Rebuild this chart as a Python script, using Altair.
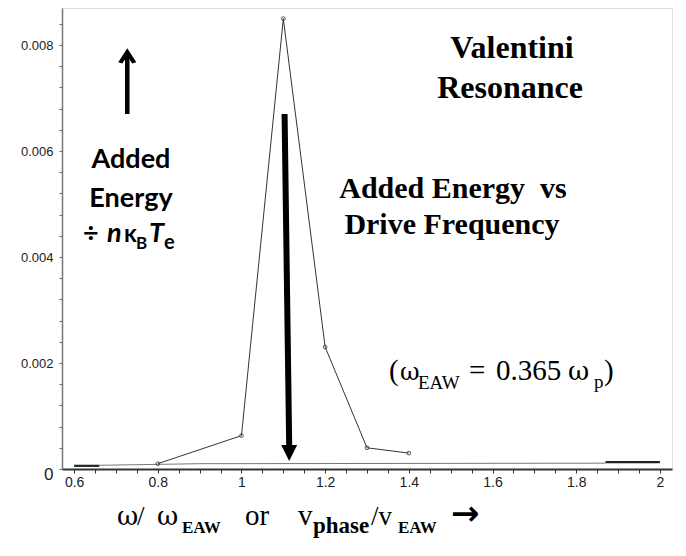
import altair as alt
import pandas as pd

# ---- data ----
drive_freq = [0.8, 1.0, 1.1, 1.2, 1.3, 1.4]
added_energy = [0.0001, 0.00063, 0.0085, 0.0023, 0.0004, 0.0003]

base_x = [0.66, 0.9, 1.87]
base_y = [0.00007, 0.0001, 0.00011]

seg_id = ["left", "left", "right", "right"]
seg_x = [0.6, 0.66, 1.87, 2.0]
seg_y = [0.00006, 0.00006, 0.00013, 0.00013]

x_tick_values = [round(0.6 + 0.05 * i, 2) for i in range(29)]
y_tick_values = [round(0.0004 * i, 4) for i in range(22)]

# arrows (data coordinates)
arrow_x = [1.103, 0.727]
arrow_x2 = [1.114, 0.727]
arrow_y = [0.0067, 0.0067]
arrow_y2 = [0.00045, 0.0078]
head_x = [1.114, 0.727]
head_y = [0.0003, 0.00777]

XMIN, XMAX = 0.571, 2.029
YMIN, YMAX = 0.0, 0.0087
W, H = 610, 461
LEFT = 54

x_scale = alt.Scale(domain=[XMIN, XMAX], nice=False, zero=False)
y_scale = alt.Scale(domain=[YMIN, YMAX], nice=False)

x_axis = alt.Axis(
    values=x_tick_values,
    labelExpr="abs(datum.value/0.2 - round(datum.value/0.2)) < 0.000001 ? format(datum.value, '.1~f') : ''",
    title=None, grid=False, tickSize=4, tickColor="#333", domainColor="#333",
    domainWidth=2, labelFont="Liberation Sans", labelFontSize=14, labelColor="#222",
    labelPadding=2, labelFlush=False, labelOverlap=False,
)
y_axis = alt.Axis(
    values=y_tick_values,
    labelExpr="abs(datum.value/0.002 - round(datum.value/0.002)) < 0.000001 ? (datum.value == 0 ? '0' : format(datum.value, '.3f')) : ''",
    title=None, grid=False, tickSize=3, tickColor="#666", domainColor="#777",
    domainWidth=1.5, labelFont="Liberation Sans",
    labelFontSize={"condition": {"test": "datum.value == 0", "value": 17}, "value": 13},
    labelOffset={"condition": {"test": "datum.value == 0", "value": 5}, "value": 0},
    labelColor="#222",
    labelPadding=6, labelFlush=False, labelOverlap=False,
)

X = alt.X("x:Q", scale=x_scale, axis=x_axis)
Y = alt.Y("y:Q", scale=y_scale, axis=y_axis)

main_df = pd.DataFrame({"x": drive_freq, "y": added_energy})
base_df = pd.DataFrame({"x": base_x, "y": base_y})
seg_df = pd.DataFrame({"x": seg_x, "y": seg_y, "seg": seg_id})
arrow_df = pd.DataFrame({"x": arrow_x, "x2": arrow_x2, "y": arrow_y, "y2": arrow_y2})
head_df = pd.DataFrame({"x": head_x, "y": head_y})

main_line = alt.Chart(main_df).mark_line(color="#333", strokeWidth=1).encode(x=X, y=Y)
main_pts = alt.Chart(main_df).mark_point(shape="circle", filled=False, size=14,
                                        color="#333", strokeWidth=0.8, opacity=1).encode(x=X, y=Y)
base_line = alt.Chart(base_df).mark_line(color="#777", strokeWidth=1).encode(x=X, y=Y)
seg_line = alt.Chart(seg_df).mark_line(color="#222", strokeWidth=2.2).encode(
    x=X, y=Y, detail="seg:N")

down_shaft = alt.Chart(arrow_df.iloc[[0]]).mark_rule(color="black", strokeWidth=6).encode(
    x=X, y=Y, x2="x2:Q", y2="y2:Q")
up_shaft = alt.Chart(arrow_df.iloc[[1]]).mark_rule(color="black", strokeWidth=4.5).encode(
    x=X, y=Y, x2="x2:Q", y2="y2:Q")
down_head = alt.Chart(head_df.iloc[[0]]).mark_point(
    shape="M -1 -1 L 1 -1 L 0 1 Z", filled=True, size=256, color="black", opacity=1,
    strokeWidth=0).encode(x=X, y=Y)
up_head = alt.Chart(head_df.iloc[[1]]).mark_point(
    shape="M 0 -1 L 1 0.55 L 0.55 0.7 L 0 -0.15 L -0.55 0.7 L -1 0.55 Z", filled=True,
    size=324, color="black", opacity=1, strokeWidth=0).encode(x=X, y=Y)

one = pd.DataFrame({"a": [0]})


def label(text, x, y, size, font="Liberation Serif", weight="normal", style="normal",
          align="left"):
    return alt.Chart(one).mark_text(
        text=text, align=align, baseline="alphabetic", font=font, fontSize=size,
        fontWeight=weight, fontStyle=style, color="black",
    ).encode(x=alt.value(x - 62), y=alt.value(y - 8))


NB = "\u00a0"
GR = "DejaVu Serif"
texts = [
    label("Valentini", 512, 58, 32, weight="bold", align="center"),
    label("Resonance", 510, 98, 32, weight="bold", align="center"),
    label("Added Energy" + NB + NB + "vs", 453, 198, 30, weight="bold", align="center"),
    label("Drive Frequency", 452, 234, 30, weight="bold", align="center"),
    label("Added", 131, 168, 27, font="Lato", weight="bold", align="center"),
    label("Energy", 131, 207, 27, font="Lato", weight="bold", align="center"),
    label("÷", 83, 242, 27, font="Lato", weight="bold"),
    label("n", 107, 242, 27, font="Lato", weight="bold", style="italic"),
    label("κ", 124, 242, 24, font="Lato", weight="bold"),
    label("B", 136, 249, 17, font="Lato", weight="bold"),
    label("T", 149, 242, 27, font="Lato", weight="bold", style="italic"),
    label("e", 164, 249, 20, font="Lato", weight="bold"),
    # (omega_EAW = 0.365 omega_p)
    label("(", 389, 380, 29),
    label("ω", 400, 380, 24, font=GR),
    label("EAW", 418, 389, 19),
    label("=", 469, 380, 29),
    label("0.365", 496, 380, 29),
    label("ω", 568, 380, 26, font=GR),
    label("p", 594, 388, 19),
    label(")", 604, 380, 29),
    # x-axis title
    label("ω", 117, 525, 26, font=GR),
    label("/", 137, 525, 27),
    label("ω", 157, 525, 26, font=GR),
    label("EAW", 182, 533, 17, weight="bold"),
    label("or", 245, 525, 29),
    label("v", 298, 525, 29),
    label("phase", 313, 533, 23, weight="bold"),
    label("/v", 371, 525, 27),
    label("EAW", 398, 533, 17, weight="bold"),
    label("→", 451, 525, 34, font="DejaVu Sans", weight="bold"),
]

chart = alt.layer(
    base_line, seg_line, main_line, main_pts, down_shaft, up_shaft, down_head, up_head,
    *texts,
).properties(
    width=W, height=H,
    autosize=alt.AutoSizeParams(type="none"),
    padding={"left": LEFT, "top": 0, "right": 6, "bottom": 79},
).configure_view(stroke=None).configure(background="white")

chart.save("out.html", embed_options={"renderer": "svg", "actions": False})
